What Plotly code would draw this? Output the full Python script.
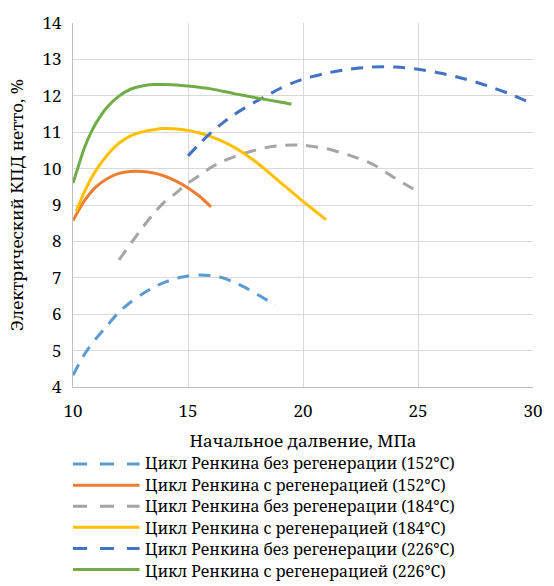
import plotly.graph_objects as go

# ---- data ----
labels = [
    "Цикл Ренкина без регенерации (152°C)",
    "Цикл Ренкина с регенерацией (152°C)",
    "Цикл Ренкина без регенерации (184°C)",
    "Цикл Ренкина с регенерацией (184°C)",
    "Цикл Ренкина без регенерации (226°C)",
    "Цикл Ренкина с регенерацией (226°C)",
]
colors = ["#5B9BD5", "#ED7D31", "#A5A5A5", "#FFC000", "#4472C4", "#70AD47"]
dashed = [True, False, True, False, True, False]

x_152_noreg = [10, 10.5, 11, 11.5, 12, 12.5, 13, 13.5, 14, 14.5, 15, 15.5, 16, 16.5, 17, 17.5, 18, 18.8]
y_152_noreg = [4.32, 4.9, 5.33, 5.7, 6.06, 6.33, 6.55, 6.74, 6.88, 6.99, 7.05, 7.08, 7.06, 7.0, 6.88, 6.73, 6.55, 6.25]

x_152_reg = [10, 10.5, 11, 11.5, 12, 12.5, 13, 13.5, 14, 14.5, 15, 15.5, 16]
y_152_reg = [8.57, 9.12, 9.5, 9.73, 9.87, 9.92, 9.92, 9.88, 9.79, 9.65, 9.47, 9.24, 8.95]

x_184_noreg = [12, 12.5, 13, 13.5, 14, 14.5, 15, 15.5, 16, 16.5, 17, 17.5, 18, 18.5, 19, 19.5, 20, 20.5, 21, 22, 23, 24, 25]
y_184_noreg = [7.49, 7.93, 8.36, 8.76, 9.1, 9.34, 9.6, 9.81, 10.03, 10.2, 10.32, 10.43, 10.52, 10.59, 10.63, 10.645, 10.64, 10.6, 10.55, 10.37, 10.13, 9.74, 9.36]

x_184_reg = [10.14, 10.5, 11, 11.5, 12, 12.5, 13, 13.5, 14, 14.5, 15, 15.5, 16, 16.5, 17, 17.5, 18, 18.5, 19, 19.5, 20, 20.5, 21]
y_184_reg = [8.83, 9.37, 9.95, 10.38, 10.7, 10.9, 11.01, 11.07, 11.1, 11.09, 11.05, 10.98, 10.88, 10.75, 10.59, 10.39, 10.16, 9.9, 9.63, 9.37, 9.1, 8.85, 8.6]

x_226_noreg = [15, 15.5, 16, 16.5, 17, 17.5, 18, 18.5, 19, 19.5, 20, 21, 22, 23, 24, 25, 26, 27, 28, 29, 30]
y_226_noreg = [10.35, 10.68, 10.99, 11.25, 11.48, 11.68, 11.86, 12.03, 12.2, 12.34, 12.46, 12.62, 12.73, 12.79, 12.79, 12.73, 12.62, 12.47, 12.28, 12.05, 11.78]

x_226_reg = [10, 10.25, 10.5, 10.75, 11, 11.5, 12, 12.5, 13, 13.5, 14, 14.5, 15, 16, 17, 18, 19, 19.5]
y_226_reg = [9.6, 10.1, 10.58, 10.95, 11.25, 11.7, 11.99, 12.18, 12.27, 12.31, 12.31, 12.3, 12.27, 12.19, 12.06, 11.94, 11.83, 11.77]

series_x = [x_152_noreg, x_152_reg, x_184_noreg, x_184_reg, x_226_noreg, x_226_reg]
series_y = [y_152_noreg, y_152_reg, y_184_noreg, y_184_reg, y_226_noreg, y_226_reg]

x_title = "Начальное далвение, МПа"
y_title = "Электрический КПД нетто, %"

# ---- layout constants (pixels) ----
W, H = 554, 586
L, R, T, B = 73, 543, 14, 387
FONT = "Noto Serif"
FS_NUM = 17
FS_TXT = 17
leg_y0 = 466
leg_dy = 21.6
FS_LEG_BASE = leg_dy / 1.3   # line spacing of the legend block
FS_LEG = 15.8
DASH = "12px,9px"

fig = go.Figure()
for xs, ys, c, d, name in zip(series_x, series_y, colors, dashed, labels):
    fig.add_trace(go.Scatter(
        x=xs, y=ys, mode="lines", name=name, showlegend=False,
        line=dict(color=c, width=3, shape="spline", smoothing=0.8,
                  dash=DASH if d else "solid"),
    ))

pw, ph = R - L, B - T
def px2paper_x(px):
    return (px - L) / pw
def px2paper_y(py):
    return (B - py) / ph

# manual legend: symbol lines
for i, (c, d) in enumerate(zip(colors, dashed)):
    yy = px2paper_y(leg_y0 + i * leg_dy)
    fig.add_shape(type="line", xref="paper", yref="paper",
                  x0=px2paper_x(73), x1=px2paper_x(141), y0=yy, y1=yy,
                  line=dict(color=c, width=3, dash=("14px,13px" if d else "solid")))
# legend texts in one block
leg_text = "<br>".join(f'<span style="font-size:{FS_LEG}px">{t}</span>' for t in labels)
fig.add_annotation(xref="paper", yref="paper", x=px2paper_x(145),
                   y=px2paper_y(leg_y0 + 2.5 * leg_dy),
                   text=leg_text, showarrow=False, xanchor="left", yanchor="middle",
                   align="left", font=dict(family=FONT, size=FS_LEG_BASE, color="black"))

fig.update_layout(
    width=W, height=H,
    margin=dict(l=L, r=W - R, t=T, b=H - B),
    paper_bgcolor="white", plot_bgcolor="white",
    font=dict(family=FONT, size=FS_NUM, color="black"),
    showlegend=False,
)
fig.update_xaxes(
    range=[10, 30], dtick=5, tick0=10,
    showgrid=True, gridcolor="#D9D9D9", gridwidth=1.3,
    showline=True, linecolor="#BFBFBF", linewidth=1.3, mirror=False,
    zeroline=False, ticks="", ticklabelstandoff=8,
    tickfont=dict(family=FONT, size=FS_NUM, color="black"),
    title=dict(text=x_title, font=dict(family=FONT, size=FS_TXT), standoff=14),
)
fig.update_yaxes(
    range=[4, 14], dtick=1, tick0=4,
    showgrid=True, gridcolor="#D9D9D9", gridwidth=1.3,
    showline=True, linecolor="#BFBFBF", linewidth=1.3, mirror=False,
    zeroline=False, ticks="", ticklabelstandoff=7,
    tickfont=dict(family=FONT, size=FS_NUM, color="black"),
    title=dict(text=y_title, font=dict(family=FONT, size=FS_TXT), standoff=14),
)

fig.write_html("out.html")
